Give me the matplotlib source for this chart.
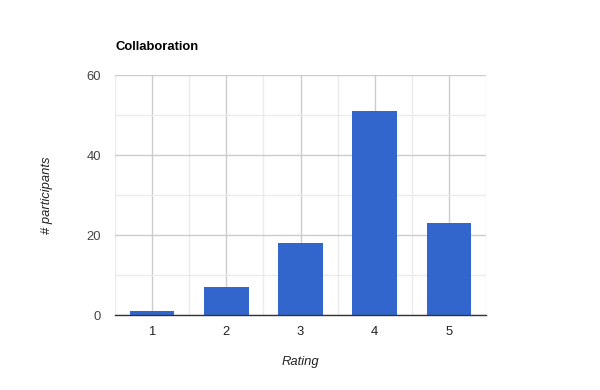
import matplotlib.pyplot as plt
from matplotlib.ticker import MultipleLocator

plt.rcParams['font.family'] = ['Liberation Sans', 'DejaVu Sans']

# Data
ratings = ['1', '2', '3', '4', '5']
counts = [1, 7, 18, 51, 23]
y_ticks = [0, 20, 40, 60]

fig = plt.figure(figsize=(6, 3.9), dpi=100)
ax = fig.add_axes([115 / 600, 1 - 315 / 390, 371 / 600, 240 / 390])

pos = list(range(1, len(ratings) + 1))
ax.bar(pos, counts, width=0.6, color='#3366cc', zorder=3)

ax.set_xlim(0.5, len(ratings) + 0.5)
ax.set_ylim(0, 60)
ax.set_xticks(pos)
ax.set_xticklabels(ratings)
ax.set_yticks(y_ticks)
ax.xaxis.set_minor_locator(MultipleLocator(0.5))
ax.yaxis.set_minor_locator(MultipleLocator(10))

# gridlines
ax.grid(which='major', color='#cccccc', linewidth=1, zorder=0)
ax.grid(which='minor', color='#ebebeb', linewidth=1, zorder=0)
ax.set_axisbelow(True)

for s in ['top', 'right', 'left']:
    ax.spines[s].set_visible(False)
ax.spines['bottom'].set_color('#333333')
ax.spines['bottom'].set_linewidth(1)
ax.spines['bottom'].set_zorder(4)

ax.tick_params(which='both', length=0)
ax.tick_params(axis='x', pad=8, labelsize=9.4, labelcolor='#222222')
ax.tick_params(axis='y', pad=10, labelsize=9.4, labelcolor='#444444')

ax.set_xlabel('Rating', fontstyle='italic', fontsize=9.4, color='#222222', labelpad=13)
ax.set_ylabel('# participants', fontstyle='italic', fontsize=9.4, color='#222222', labelpad=24)

fig.text(115 / 600, 1 - 47 / 390, 'Collaboration', fontsize=9.4, fontweight='bold',
         color='#000000', va='center', ha='left')

plt.savefig('out.png', dpi=100)
plt.close()
